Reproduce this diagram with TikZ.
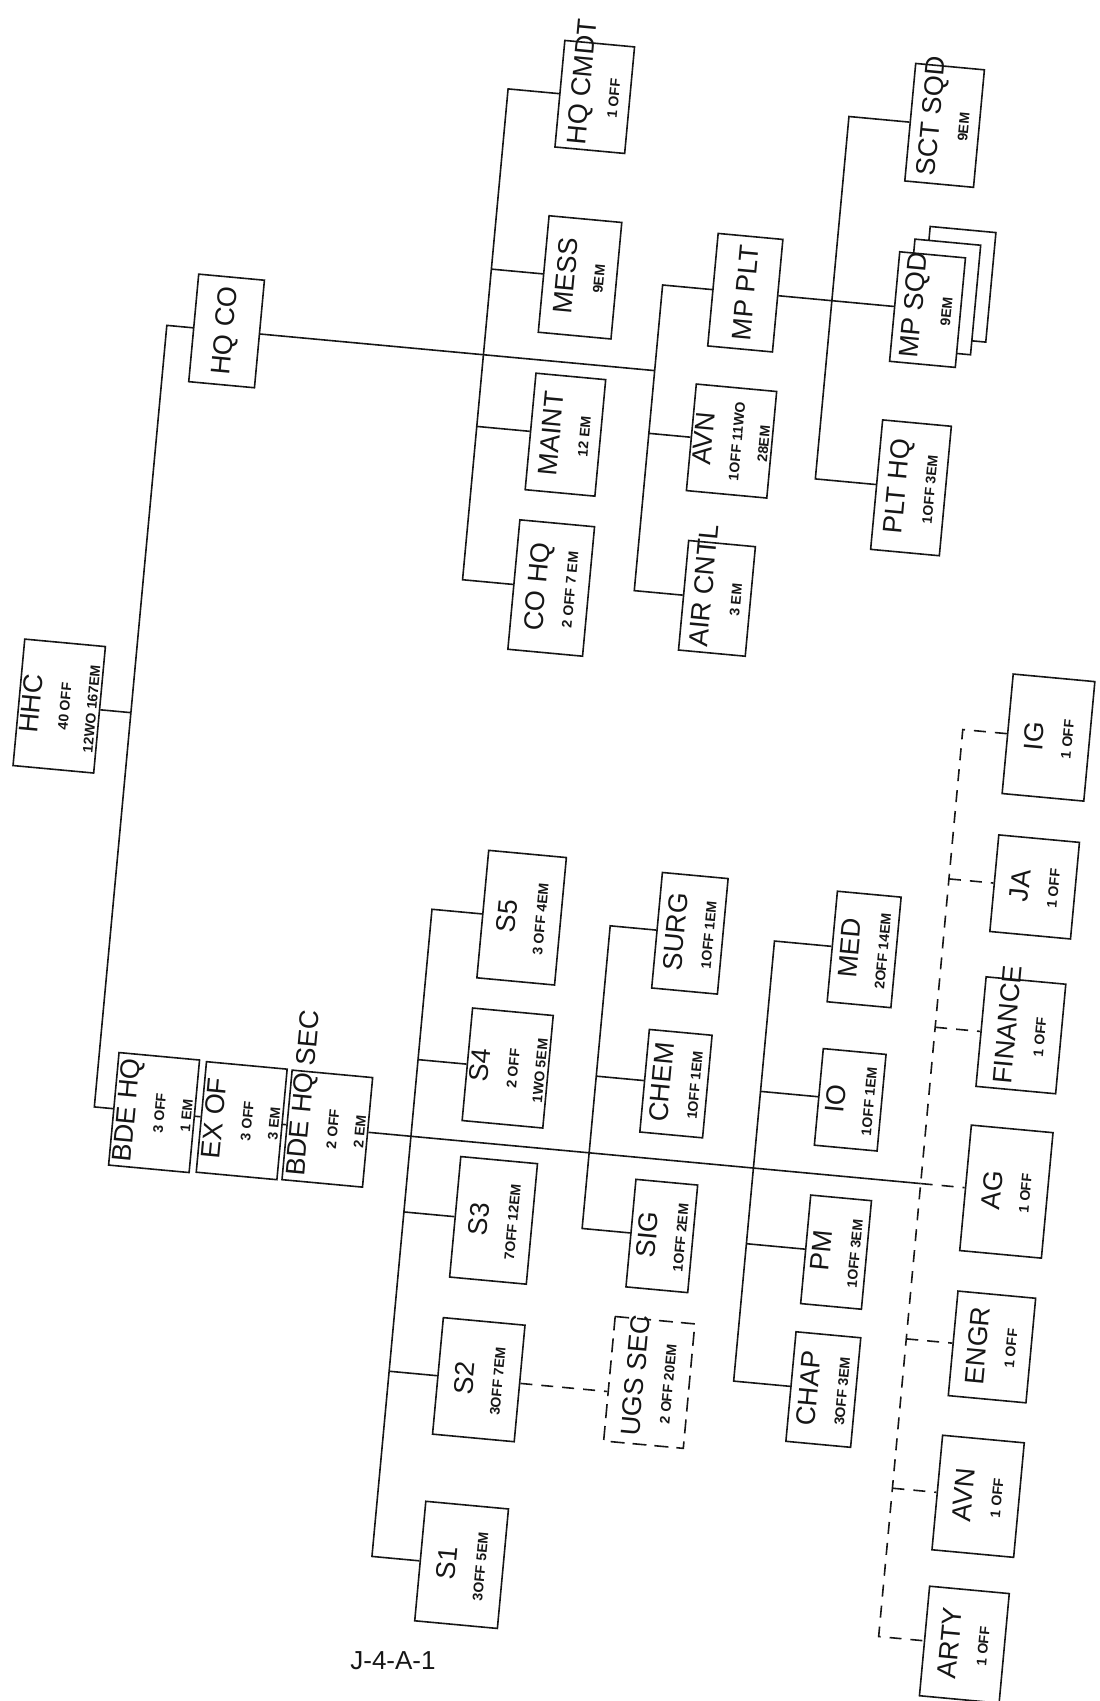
\documentclass[tikz,border=0pt]{standalone}
\usepackage{fontspec}
\setmainfont{Liberation Sans}
\usetikzlibrary{calc}
\definecolor{inkcolor}{RGB}{22,22,22}
\newcommand{\unitname}{\fontsize{27}{27}\selectfont}
\newcommand{\unitstrength}{\fontsize{14}{15}\selectfont\bfseries}
\newcommand{\longname}[2]{\makebox[#1][l]{#2}}
\tikzset{
unit/.style={
  draw=inkcolor,
  line width=1.6pt,
  rotate=90,
  fill=white,
  minimum width=115pt,
  minimum height=70pt,
  inner sep=3pt,
  align=center,
  text=inkcolor,
  font=\unitname
},
link/.style={
  draw=inkcolor,
  line width=1.6pt
},
dashlink/.style={
  link,
  dash pattern=on 12pt off 9pt
},
dashunit/.style={
  unit,
  dash pattern=on 14pt off 8pt
},
pagelabel/.style={
  font=\fontsize{26}{26}\selectfont,
  text=inkcolor
}
}

\begin{document}
\begin{tikzpicture}[x=1pt, y=-1pt]
\useasboundingbox (0,0) rectangle (1100,1701);
\begin{scope}[rotate around={-5.3:(550,850)}, transform shape]

% company and headquarters
\node[unit, minimum height=78pt, minimum width=127pt] (hhc) at (48,752) {HHC\\[2pt]\unitstrength 40 OFF\\\unitstrength 12WO 167EM};
\node[unit, minimum height=66pt, minimum width=108pt] (hqco) at (180,363) {HQ CO};

% hq company sections
\node[unit, minimum width=107pt] (hqcmdt) at (525,96) {\longname{98pt}{HQ CMDT}\\[2pt]\unitstrength 1 OFF};
\node[unit, minimum height=73pt, minimum width=117pt] (mess) at (527,277) {MESS\\[2pt]\unitstrength 9EM};
\node[unit, minimum width=117pt] (maint) at (527,435) {MAINT\\[2pt]\unitstrength 12 EM};
\node[unit, minimum height=75pt, minimum width=130pt] (cohq) at (527,589) {CO HQ\\[2pt]\unitstrength 2 OFF 7 EM};

% aviation and mp
\node[unit, minimum height=65pt, minimum width=113pt] (mpplt) at (693,277) {MP PLT};
\node[unit, minimum height=63pt, minimum width=107pt] (avn) at (693,426) {AVN\\[2pt]\unitstrength 1OFF 11WO\\\unitstrength 28EM};
\node[unit, minimum height=67pt, minimum width=110pt] (aircntl) at (693,584) {\longname{100pt}{AIR CNTL}\\[2pt]\unitstrength 3 EM};
\node[unit, minimum height=69pt, minimum width=118pt] (sctsqd) at (876,92) {\longname{104pt}{SCT SQD}\\[2pt]\unitstrength 9EM};
\node[unit, minimum height=66pt, minimum width=110pt] (mpsqd-b2) at (904,249) {};
\node[unit, minimum height=66pt, minimum width=110pt] (mpsqd-b1) at (890,263) {};
\node[unit, minimum height=66pt, minimum width=110pt] (mpsqd) at (876,277) {\longname{100pt}{MP SQD}\\[2pt]\unitstrength 9EM};
\node[unit, minimum height=69pt, minimum width=130pt] (plthq) at (876,456) {PLT HQ\\[2pt]\unitstrength 1OFF 3EM};

% brigade headquarters
\node[unit, minimum width=113pt] (bdehq) at (180,1148) {BDE HQ\\[2pt]\unitstrength 3 OFF\\\unitstrength 1 EM};
\node[unit, minimum height=67pt, minimum width=111pt] (exof) at (268,1148) {EX OF\\[2pt]\unitstrength 3 OFF\\\unitstrength 3 EM};
\node[unit, minimum height=69pt, minimum width=110pt] (bdehqsec) at (354,1148) {\longname{100pt}{BDE HQ SEC}\\[2pt]\unitstrength 2 OFF\\\unitstrength 2 EM};

% staff sections
\node[unit, minimum height=78pt, minimum width=128pt] (s5) at (528,920) {S5\\[2pt]\unitstrength 3 OFF 4EM};
\node[unit, minimum height=77pt, minimum width=113pt] (s4) at (528,1071) {S4\\[2pt]\unitstrength 2 OFF\\\unitstrength 1WO 5EM};
\node[unit, minimum height=77pt, minimum width=121pt] (s3) at (528,1224) {S3\\[2pt]\unitstrength 7OFF 12EM};
\node[unit, minimum height=82pt, minimum width=117pt] (s2) at (528,1384) {S2\\[2pt]\unitstrength 3OFF 7EM};
\node[unit, minimum height=83pt, minimum width=120pt] (s1) at (528,1570) {S1\\[2pt]\unitstrength 3OFF 5EM};
\node[dashunit, minimum height=80pt, minimum width=125pt] (ugssec) at (698,1371) {\longname{110pt}{UGS SEC}\\[2pt]\unitstrength 2 OFF 20EM};

% special staff
\node[unit, minimum height=66pt, minimum width=116pt] (surg) at (697,920) {SURG\\[2pt]\unitstrength 1OFF 1EM};
\node[unit, minimum height=63pt, minimum width=103pt] (chem) at (697,1071) {CHEM\\[2pt]\unitstrength 1OFF 1EM};
\node[unit, minimum height=62pt, minimum width=108pt] (sig) at (697,1224) {SIG\\[2pt]\unitstrength 1OFF 2EM};
\node[unit, minimum height=64pt, minimum width=111pt] (med) at (872,920) {MED\\[2pt]\unitstrength 2OFF 14EM};
\node[unit, minimum height=63pt, minimum width=97pt] (io) at (872,1071) {IO\\[2pt]\unitstrength 1OFF 1EM};
\node[unit, minimum height=61pt, minimum width=109pt] (pm) at (872,1224) {PM\\[2pt]\unitstrength 1OFF 3EM};
\node[unit, minimum height=65pt, minimum width=110pt] (chap) at (872,1362) {CHAP\\[2pt]\unitstrength 3OFF 3EM};

% attached advisors
\node[unit, minimum height=82pt, minimum width=120pt] (ig) at (1036,692) {IG\\[2pt]\unitstrength 1 OFF};
\node[unit, minimum height=81pt, minimum width=97pt] (ja) at (1036,842) {JA\\[2pt]\unitstrength 1 OFF};
\node[unit, minimum height=80pt, minimum width=110pt] (finance) at (1036,991) {\longname{100pt}{FINANCE}\\[2pt]\unitstrength 1 OFF};
\node[unit, minimum height=82pt, minimum width=126pt] (ag) at (1036,1148) {AG\\[2pt]\unitstrength 1 OFF};
\node[unit, minimum height=78pt, minimum width=105pt] (engr) at (1036,1304) {ENGR\\[2pt]\unitstrength 1 OFF};
\node[unit, minimum height=82pt, minimum width=115pt] (avnadv) at (1036,1454) {AVN\\[2pt]\unitstrength 1 OFF};
\node[unit, minimum height=80pt, minimum width=110pt] (arty) at (1036,1603) {ARTY\\[2pt]\unitstrength 1 OFF};

% main trunk
\coordinate (trunk-top) at (120,363);
\coordinate (trunk-bot) at (120,1148);
\draw[link] (hqco.north) -- (trunk-top) -- (trunk-bot) -- (bdehq.north);
\draw[link] (hhc.south) -- (hhc.south -| trunk-top);
\coordinate (avn-jct) at (610,363);
\draw[link] (hqco.south) -- (avn-jct);

% hq company
\coordinate (sec-top) at (438,96);
\coordinate (sec-bot) at (438,589);
\draw[link] (hqcmdt.north) -- (sec-top) -- (sec-bot) -- (cohq.north);
\draw[link] (mess.north -| sec-top) -- (mess.north);
\draw[link] (maint.north -| sec-top) -- (maint.north);
\coordinate (avn-top) at (610,277);
\coordinate (avn-bot) at (610,584);
\draw[link] (mpplt.north) -- (avn-top) -- (avn-bot) -- (aircntl.north);
\draw[link] (avn.north -| avn-top) -- (avn.north);
\coordinate (mp-top) at (780,92);
\coordinate (mp-bot) at (780,456);
\draw[link] (sctsqd.north) -- (mp-top) -- (mp-bot) -- (plthq.north);
\draw[link] (mpplt.south) -- (mpsqd.north);

% brigade staff
\coordinate (adv-jct) at (950,1148);
\draw[link] (bdehq.south) -- (exof.north);
\draw[link] (exof.south) -- (bdehqsec.north);
\draw[link] (bdehqsec.south) -- (adv-jct);
\draw[dashlink] (adv-jct) -- (ag.north);
\coordinate (staff-top) at (438,920);
\coordinate (staff-bot) at (438,1570);
\draw[link] (s5.north) -- (staff-top) -- (staff-bot) -- (s1.north);
\draw[link] (s4.north -| staff-top) -- (s4.north);
\draw[link] (s3.north -| staff-top) -- (s3.north);
\draw[link] (s2.north -| staff-top) -- (s2.north);
\draw[dashlink] (s2.south) -- (s2.south -| ugssec.north);
\coordinate (spec-top) at (617,920);
\coordinate (spec-bot) at (617,1224);
\draw[link] (surg.north) -- (spec-top) -- (spec-bot) -- (sig.north);
\draw[link] (chem.north -| spec-top) -- (chem.north);
\coordinate (pers-top) at (782,920);
\coordinate (pers-bot) at (782,1362);
\draw[link] (med.north) -- (pers-top) -- (pers-bot) -- (chap.north);
\draw[link] (io.north -| pers-top) -- (io.north);
\draw[link] (pm.north -| pers-top) -- (pm.north);
\coordinate (adv-top) at (950,692);
\coordinate (adv-bot) at (950,1603);
\draw[dashlink] (ig.north) -- (adv-top) -- (adv-bot) -- (arty.north);
\draw[dashlink] (ja.north -| adv-top) -- (ja.north);
\draw[dashlink] (finance.north -| adv-top) -- (finance.north);
\draw[dashlink] (engr.north -| adv-top) -- (engr.north);
\draw[dashlink] (avnadv.north -| adv-top) -- (avnadv.north);
\end{scope}

\node[pagelabel] (pageno) at (393,1661) {J-4-A-1};
\end{tikzpicture}
\end{document}
